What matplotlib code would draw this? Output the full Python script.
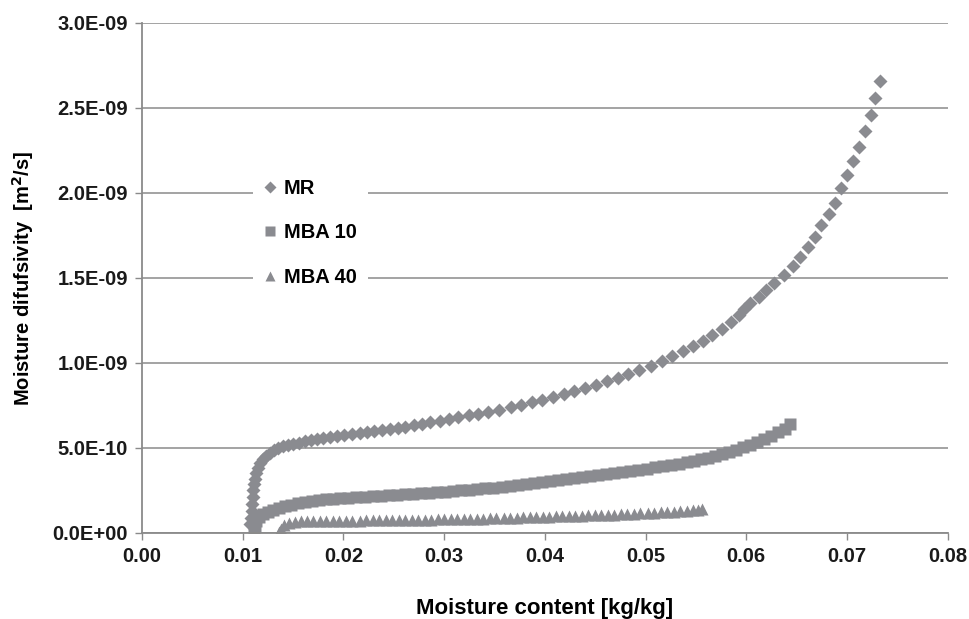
import numpy as np
import matplotlib
matplotlib.use('Agg')
import matplotlib.pyplot as plt
from matplotlib.ticker import FuncFormatter, MultipleLocator

# Moisture content [kg/kg] and diffusivity (in 1E-09 m2/s)
mr_x = [0.0107, 0.0108, 0.0109, 0.0109, 0.0110, 0.0110, 0.0111, 0.0112, 0.0113, 0.0115,
        0.0117, 0.0120, 0.0123, 0.0127, 0.0131, 0.0135, 0.0140, 0.0145, 0.0150, 0.0156,
        0.0162, 0.0168, 0.0174, 0.0180, 0.0187, 0.0194, 0.0201, 0.0209, 0.0216, 0.0223,
        0.0230, 0.0238, 0.0246, 0.0254, 0.0261, 0.0270, 0.0278, 0.0286, 0.0296, 0.0305,
        0.0314, 0.0325, 0.0334, 0.0344, 0.0355, 0.0366, 0.0376, 0.0387, 0.0397, 0.0408,
        0.0419, 0.0429, 0.0440, 0.0451, 0.0462, 0.0473, 0.0483, 0.0494, 0.0505, 0.0516,
        0.0526, 0.0537, 0.0547, 0.0557, 0.0566, 0.0576, 0.0585, 0.0593, 0.0598, 0.0604,
        0.0613, 0.0620, 0.0628, 0.0637, 0.0646, 0.0653, 0.0661, 0.0668, 0.0674, 0.0682,
        0.0688, 0.0694, 0.0700, 0.0706, 0.0712, 0.0718, 0.0724, 0.0728, 0.0733]
mr_d = [0.05, 0.09, 0.13, 0.17, 0.21, 0.25, 0.29, 0.32, 0.35, 0.38,
        0.41, 0.435, 0.455, 0.47, 0.485, 0.50, 0.51, 0.518, 0.525, 0.532,
        0.538, 0.545, 0.552, 0.558, 0.564, 0.570, 0.576, 0.581, 0.586, 0.592,
        0.600, 0.606, 0.612, 0.619, 0.626, 0.634, 0.642, 0.650, 0.660, 0.670,
        0.680, 0.692, 0.702, 0.713, 0.726, 0.740, 0.753, 0.768, 0.784, 0.801,
        0.818, 0.835, 0.853, 0.872, 0.892, 0.913, 0.934, 0.958, 0.983, 1.010,
        1.038, 1.068, 1.098, 1.130, 1.165, 1.202, 1.242, 1.282, 1.318, 1.352,
        1.390, 1.429, 1.472, 1.518, 1.572, 1.625, 1.684, 1.743, 1.812, 1.875,
        1.943, 2.028, 2.104, 2.188, 2.270, 2.365, 2.459, 2.560, 2.660]

mba10_x = [0.0111, 0.0112, 0.0113, 0.0116, 0.0120, 0.0125, 0.0130, 0.0136, 0.0142, 0.0148,
           0.0155, 0.0162, 0.0169, 0.0176, 0.0183, 0.0190,
           0.0197, 0.0205, 0.0213, 0.0221, 0.0229, 0.0237, 0.0245, 0.0253, 0.0261, 0.0269,
           0.0277, 0.0285, 0.0293, 0.0301, 0.0309, 0.0317, 0.0325, 0.0333, 0.0341, 0.0349,
           0.0357, 0.0365, 0.0373, 0.0381, 0.0389, 0.0397, 0.0405, 0.0413, 0.0421, 0.0429,
           0.0437, 0.0445, 0.0453, 0.0461, 0.0469, 0.0477, 0.0485, 0.0493, 0.0501, 0.0509,
           0.0517, 0.0525, 0.0533, 0.0541, 0.0548, 0.0555, 0.0562, 0.0569, 0.0576, 0.0583,
           0.0590, 0.0597, 0.0604, 0.0611, 0.0618, 0.0625, 0.0632, 0.0638, 0.0643]
mba10_d = [0.01, 0.04, 0.07, 0.095, 0.11, 0.125, 0.137, 0.148, 0.158, 0.167,
           0.175, 0.182, 0.188, 0.194, 0.198, 0.201,
           0.204, 0.208, 0.211, 0.214, 0.217, 0.219, 0.222, 0.225, 0.228, 0.231,
           0.234, 0.237, 0.240, 0.243, 0.247, 0.251, 0.255, 0.259, 0.263, 0.267,
           0.272, 0.277, 0.282, 0.287, 0.292, 0.298, 0.303, 0.309, 0.315, 0.321,
           0.327, 0.333, 0.339, 0.346, 0.352, 0.359, 0.365, 0.372, 0.379, 0.386,
           0.393, 0.400, 0.408, 0.416, 0.425, 0.434, 0.443, 0.453, 0.464, 0.476,
           0.489, 0.503, 0.518, 0.534, 0.552, 0.571, 0.592, 0.614, 0.640]

mba40_x = [0.0136, 0.0138, 0.0141, 0.0146, 0.0152, 0.0158,
           0.0164, 0.0170, 0.0177, 0.0183, 0.0190, 0.0196, 0.0203, 0.0209, 0.0216, 0.0222,
           0.0229, 0.0235, 0.0242, 0.0248, 0.0255, 0.0261, 0.0268, 0.0274, 0.0281, 0.0287,
           0.0294, 0.0300, 0.0307, 0.0313, 0.0320, 0.0326, 0.0333, 0.0339, 0.0346, 0.0352,
           0.0359, 0.0365, 0.0372, 0.0378, 0.0385, 0.0391, 0.0398, 0.0404, 0.0411, 0.0417,
           0.0424, 0.0430, 0.0437, 0.0443, 0.0450, 0.0456, 0.0463, 0.0469, 0.0476, 0.0482,
           0.0489, 0.0495, 0.0502, 0.0508, 0.0515, 0.0521, 0.0528, 0.0534, 0.0541, 0.0547,
           0.0552, 0.0556]
mba40_d = [0.005, 0.025, 0.045, 0.058, 0.065, 0.068,
           0.070, 0.071, 0.071, 0.071, 0.072, 0.072, 0.072, 0.073, 0.073, 0.074,
           0.074, 0.075, 0.075, 0.076, 0.076, 0.077, 0.077, 0.078, 0.078, 0.079,
           0.080, 0.081, 0.081, 0.082, 0.083, 0.084, 0.085, 0.085, 0.086, 0.087,
           0.088, 0.089, 0.090, 0.091, 0.092, 0.093, 0.095, 0.096, 0.097, 0.098,
           0.099, 0.100, 0.101, 0.103, 0.104, 0.105, 0.107, 0.108, 0.110, 0.111,
           0.113, 0.115, 0.117, 0.119, 0.121, 0.123, 0.125, 0.128, 0.131, 0.134,
           0.137, 0.140]

series_names = ['MR', 'MBA 10', 'MBA 40']

plt.rcParams['font.family'] = ['Liberation Sans', 'DejaVu Sans']
plt.rcParams['font.weight'] = 'bold'

grey = '#8a8b90'
axis_grey = '#8a8a8a'

fig = plt.figure(figsize=(9.69, 6.19), dpi=100)
ax = fig.add_axes([0.1465, 0.139, 0.8315, 0.824])

ax.plot(mr_x, np.array(mr_d) * 1e-9, linestyle='none', marker='D', ms=7.5,
        color=grey, mec='none', label=series_names[0])
ax.plot(mba10_x, np.array(mba10_d) * 1e-9, linestyle='none', marker='s', ms=8,
        color=grey, mec='none', label=series_names[1])
ax.plot(mba40_x, np.array(mba40_d) * 1e-9, linestyle='none', marker='^', ms=8,
        color=grey, mec='none', label=series_names[2])

ax.set_xlim(0, 0.08)
ax.set_ylim(0, 3.0e-9)
ax.xaxis.set_major_locator(MultipleLocator(0.01))
ax.yaxis.set_major_locator(MultipleLocator(5e-10))
ax.xaxis.set_major_formatter(FuncFormatter(lambda v, p: f'{v:.2f}'))
ax.yaxis.set_major_formatter(FuncFormatter(lambda v, p: f'{v:.1E}'))

ax.grid(axis='y', color=axis_grey, linewidth=1.1)
ax.set_axisbelow(True)
for side in ['top', 'right']:
    ax.spines[side].set_visible(False)
for side in ['left', 'bottom']:
    ax.spines[side].set_color(axis_grey)
    ax.spines[side].set_linewidth(1.3)
ax.tick_params(axis='both', direction='out', length=5, width=1, color=axis_grey,
               labelsize=14.5, pad=5, labelcolor='#1a1a1a')

ax.set_xlabel('Moisture content [kg/kg]', fontsize=16, fontweight='bold', labelpad=23)
ax.set_ylabel('Moisture difufsivity  [m$^{\\mathbf{2}}$/s]', fontsize=14.5,
              fontweight='bold', labelpad=12)

leg = ax.legend(loc='upper left', bbox_to_anchor=(0.125, 0.735), frameon=True,
                fancybox=False, framealpha=1, edgecolor='none', facecolor='white',
                fontsize=14.5, handlelength=0.6, handletextpad=0.4, labelspacing=1.25,
                borderpad=0.55, markerscale=0.85)

fig.savefig('out.png', dpi=100)
